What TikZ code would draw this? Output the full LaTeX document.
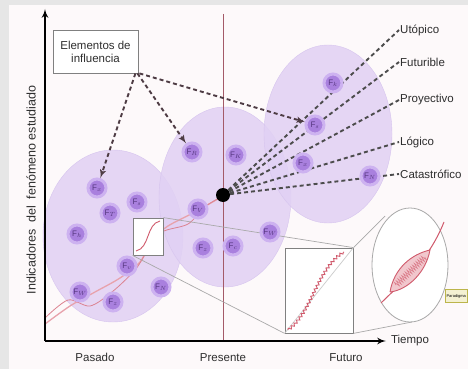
\documentclass[tikz,border=0pt]{standalone}
\usepackage{fontspec}
\setmainfont{Liberation Sans}
\usepackage{tikz}
\usepackage{xcolor}
\usetikzlibrary{calc}
\usetikzlibrary{positioning}
\usetikzlibrary{shapes,arrows}
\usetikzlibrary{decorations.pathmorphing}

\definecolor{frameGray}{HTML}{E6E6E6}
\definecolor{paperTint}{HTML}{FDF9FA}
\definecolor{bubbleFill}{HTML}{E1D1F4}
\definecolor{bubbleEdge}{HTML}{D6C4EE}
\definecolor{fCore}{HTML}{A980DE}
\definecolor{fHalo}{HTML}{CDB2F0}
\definecolor{fText}{HTML}{55367F}
\definecolor{fanGray}{HTML}{4C4C4C}
\definecolor{arrowBrown}{HTML}{4E3C44}
\definecolor{zoomGray}{HTML}{A9A9A9}
\definecolor{presentRed}{HTML}{A45A68}
\definecolor{trendPink}{HTML}{E8A2AC}
\definecolor{trendRed}{HTML}{D05A6C}
\definecolor{textGray}{HTML}{2E2E2E}
\definecolor{noteYellow}{HTML}{F4F1D2}

\begin{document}
\begin{tikzpicture} [x=1pt, y=-1pt, >=latex', font=\fontsize{11.5}{13}\selectfont]
            % Set primary styles
            \tikzset{
                bubble/.style={
                        fill=bubbleFill,
                        draw=bubbleEdge,
                        fill opacity=0.85
                    }
            }
            \tikzset{
                fNode/.style={
                        circle,
                        fill=fCore,
                        draw=fHalo,
                        line width=3pt,
                        minimum size=18pt,
                        inner sep=0pt,
                        text=fText,
                        font=\fontsize{8}{9}\selectfont
                    }
            }
            \tikzset{
                fanLine/.style={
                        draw=fanGray,
                        line width=1.9pt,
                        dash pattern=on 4pt off 3pt
                    }
            }
            \tikzset{
                influenceArrow/.style={
                        fanLine,
                        draw=arrowBrown,
                        ->
                    }
            }
            \tikzset{
                zoomLine/.style={
                        draw=zoomGray,
                        line width=0.7pt
                    }
            }
            \tikzset{
                zoomBox/.style={
                        draw=gray,
                        fill=white,
                        line width=0.8pt
                    }
            }
            \tikzset{
                tagText/.style={
                        text=textGray,
                        inner sep=1pt
                    }
            }
            \tikzset{
                axisArrow/.style={
                        line width=2pt,
                        ->
                    }
            }
            % Frame
            \path[use as bounding box] (0,0) rectangle (468,369);
            \clip (0,0) rectangle (468,369);
            \fill[frameGray] (0,0) rectangle (468,369);
            \fill[paperTint] (9,5) rectangle (468,369);
            % Bubbles
            \draw[bubble] (113,236) ellipse [x radius=70, y radius=86];
            \draw[bubble] (225,197) ellipse [x radius=66, y radius=90];
            \draw[bubble] (328,134) ellipse [x radius=64, y radius=89];
            % Present line
            \draw[presentRed, line width=0.6pt] (223,14) -- (223,340);
            % Trend curves
            \draw[trendPink, line width=1.3pt] plot[smooth] coordinates {(45,324) (70,306) (95,292) (120,278) (140,262) (152,240) (168,226) (195,212) (223,196)};
            \draw[trendRed!75, line width=0.8pt] plot[smooth] coordinates {(45,318) (68,300) (90,306) (112,292) (135,270) (148,250) (162,232) (188,224) (206,206) (223,196)};
            % Zoom connectors
            \node[zoomBox, minimum width=30pt, minimum height=37pt, inner sep=0pt] (smallBox) at (148,236.5) {};
            \node[zoomBox, minimum width=68pt, minimum height=85pt, inner sep=0pt] (bigBox) at (319,290.5) {};
            \draw[zoomGray, line width=0.8pt, fill=white] (410,265) ellipse [x radius=38, y radius=57];
            \coordinate (lensTop) at (385,216);
            \coordinate (lensBottom) at (412,322);
            \draw[zoomLine] (smallBox.north east) -- (bigBox.north east);
            \draw[zoomLine] (smallBox.south west) -- (bigBox.south west);
            \draw[zoomLine] (bigBox.north east) -- (lensTop);
            \draw[zoomLine] (bigBox.south east) -- (lensBottom);
            \draw[zoomLine, draw=zoomGray!60] (bigBox.south west) -- (bigBox.north east);
            % Curve details
            \draw[trendRed, line width=0.9pt] (136,251) .. controls (150,248) and (146,224) .. (160,221);
            \draw[trendRed, line width=0.9pt, decorate, decoration={snake, amplitude=1.3pt, segment length=4pt}] (288,330) .. controls (312,312) and (316,268) .. (344,252);
            \draw[trendRed, line width=1pt] (381,303) .. controls (402,282) and (428,262) .. (444,222);
            \draw[trendRed, line width=0.9pt, fill=trendPink!60] (390,292) .. controls (394,268) and (412,254) .. (430,250) .. controls (426,272) and (408,290) .. (390,292);
            \draw[trendRed!80, line width=0.5pt, decorate, decoration={zigzag, amplitude=3pt, segment length=2.5pt}] (396,285) -- (425,257);
            % Placing tags
            \node[tagText, anchor=west] (utopico) at (399,30) {Utópico};
            \node[tagText, anchor=west] (futurible) at (399,62) {Futurible};
            \node[tagText, anchor=west] (proyectivo) at (399,100) {Proyectivo};
            \node[tagText, anchor=west] (logico) at (399,142) {Lógico};
            \node[tagText, anchor=west] (catastrofico) at (399,174) {Catastrófico};
            \node[circle, fill=black, minimum size=14pt, inner sep=0pt] (present) at (223,195) {};
            % Draw fan
            \draw[fanLine] (present) -- (utopico.west);
            \draw[fanLine] (present) -- (futurible.west);
            \draw[fanLine] (present) -- (proyectivo.west);
            \draw[fanLine] (present) -- (logico.west);
            \draw[fanLine] (present) -- (catastrofico.west);
            % Placing factors
            \node[fNode] (pastA) at (97,188) {F$_x$};
            \node[fNode] (pastB) at (137,202) {F$_s$};
            \node[fNode] (pastC) at (110,213) {F$_T$};
            \node[fNode] (pastD) at (77,234) {F$_h$};
            \node[fNode] (pastE) at (127,266) {F$_v$};
            \node[fNode] (pastF) at (80,292) {F$_W$};
            \node[fNode] (pastG) at (113,302) {F$_z$};
            \node[fNode] (pastH) at (161,287) {F$_N$};
            \node[fNode] (nowA) at (192,152) {F$_R$};
            \node[fNode] (nowB) at (236,155) {F$_K$};
            \node[fNode] (nowC) at (198,209) {F$_V$};
            \node[fNode] (nowD) at (203,248) {F$_z$};
            \node[fNode] (nowE) at (233,246) {F$_c$};
            \node[fNode] (nowF) at (270,232) {F$_W$};
            \node[fNode] (nextA) at (333,83) {F$_k$};
            \node[fNode] (nextB) at (315,125) {F$_s$};
            \node[fNode] (nextC) at (303,163) {F$_x$};
            \node[fNode] (nextD) at (370,176) {F$_N$};
            % Influence box and arrows
            \node[draw=gray, fill=white, line width=0.8pt, text=textGray, align=center, minimum width=85pt, minimum height=43pt, inner sep=2pt] (influence) at (95.5,51.5) {Elementos de\\influencia};
            \draw[influenceArrow] (influence.south east) ++(-3,0) -- (pastA);
            \draw[influenceArrow] (influence.south east) ++(-1,0) -- (nowA);
            \draw[influenceArrow] (influence.south east) ++(1,0) -- (nextB);
            % Axes
            \draw[axisArrow] (45,341) -- (45,9);
            \draw[axisArrow] (45,341) -- (386,341) node[tagText, right=3pt] (tiempo) {Tiempo};
            \node[tagText, rotate=90, font=\fontsize{12.5}{14}\selectfont] (yLabel) at (31,190) {Indicadores \ del \ fenómeno estudiado};
            \node[tagText] (pasado) at (95,357) {Pasado};
            \node[tagText] (presente) at (223,358) {Presente};
            \node[tagText] (futuro) at (346,358) {Futuro};
            \node[draw=olive!60, fill=noteYellow, font=\fontsize{4}{5}\selectfont, inner sep=1.4pt, minimum height=13pt, anchor=east] (note) at (467.5,296) {Paradigma};
        \end{tikzpicture}
\end{document}
